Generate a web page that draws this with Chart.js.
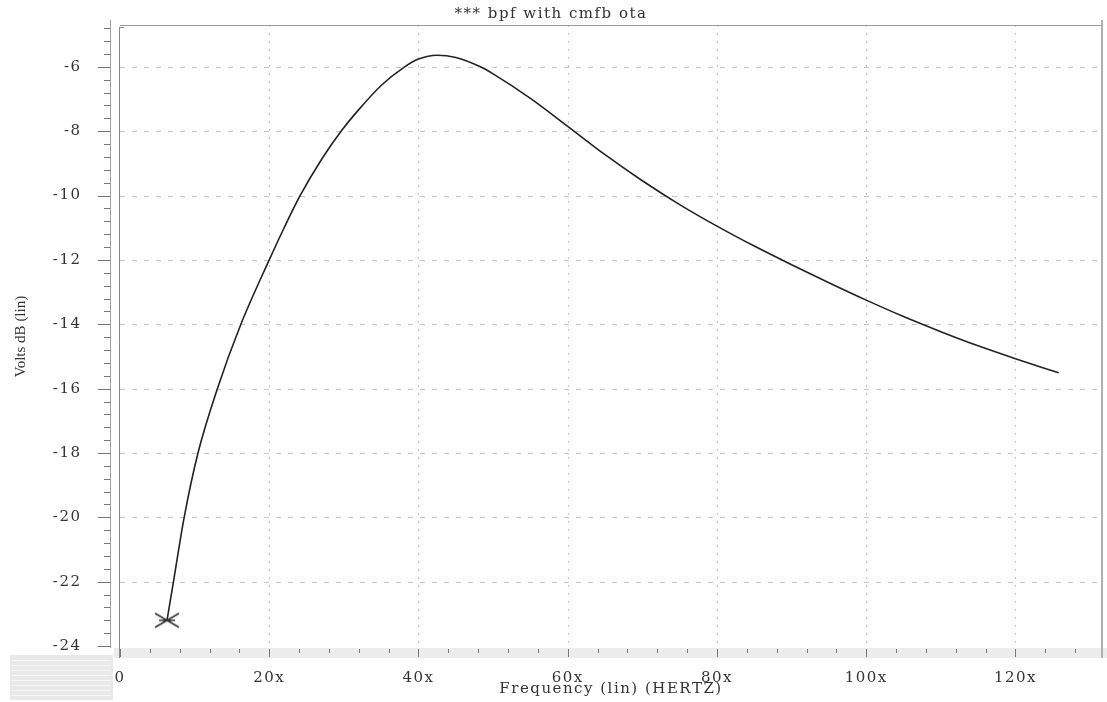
<!DOCTYPE html>
<html>
<head>
<meta charset="utf-8">
<script src="https://cdn.jsdelivr.net/npm/chart.js@4.4.1/dist/chart.umd.min.js"></script>
<style>
  html, body { margin: 0; padding: 0; background: #ffffff; }
  #wrap { width: 1107px; height: 702px; position: relative; }
</style>
</head>
<body>
<div id="wrap"><canvas id="c" width="1107" height="702"></canvas></div>
<script>
// ---- data ----
const frequency = [6.3, 7.2, 8.6, 10.45, 13.05, 16.2, 20.0, 22.0, 24.1, 27.0, 29.7, 32.0, 35.0, 38.1, 40.0, 42.5, 45.0, 48.3, 50, 55, 60, 65, 70, 75, 80, 85, 90, 95, 100, 105, 110, 115, 120, 125.8];
const voltsDb   = [-23.2, -21.95, -20.0, -18.0, -16.0, -14.0, -12.0, -11.0, -10.02, -8.88, -7.98, -7.33, -6.58, -6.01, -5.76, -5.64, -5.71, -6.0, -6.22, -6.98, -7.85, -8.73, -9.54, -10.28, -10.95, -11.57, -12.15, -12.71, -13.25, -13.76, -14.23, -14.67, -15.07, -15.51];
const xMajorTicks = [0, 20, 40, 60, 80, 100, 120];
const yMajorTicks = [-24, -22, -20, -18, -16, -14, -12, -10, -8, -6];
const xMinorStep = 4;
const yMinorStep = 0.4;
const titleText = "*** bpf with cmfb ota";
const xTitle = "Frequency (lin) (HERTZ)";
const yTitle = "Volts dB (lin)";

const FONT = "'DejaVu Serif', 'Liberation Serif', serif";
const FONT_Y = "'Liberation Serif', 'DejaVu Serif', serif";
const SPACING = '1.5px';

// marker glyph (asterisk-like X)
const marker = document.createElement('canvas');
marker.width = 28; marker.height = 18;
(function () {
  const m = marker.getContext('2d');
  m.strokeStyle = '#333'; m.lineWidth = 1.5;
  m.beginPath();
  m.moveTo(2, 2); m.lineTo(26, 16);
  m.moveTo(2, 16); m.lineTo(26, 2);
  m.moveTo(6, 9); m.lineTo(22, 9);
  m.stroke();
})();

const points = frequency.map((f, i) => ({ x: f, y: voltsDb[i] }));

const framePlugin = {
  id: 'frame',
  afterLayout(chart) {
    chart.ctx.letterSpacing = SPACING;
    const s = chart.scales.y;
    if (s && !s._noSpacing) {
      const orig = s.drawTitle.bind(s);
      s.drawTitle = function () {
        const c = chart.ctx;
        const prev = c.letterSpacing;
        c.letterSpacing = '0px';
        orig();
        c.letterSpacing = prev;
      };
      s._noSpacing = true;
    }
  },
  beforeDraw(chart) {
    chart.ctx.letterSpacing = SPACING;
  },
  beforeDatasetsDraw(chart) {
    const { ctx, chartArea: a, scales: { x, y } } = chart;
    ctx.save();
    ctx.strokeStyle = '#c4c4c4'; ctx.lineWidth = 1;
    ctx.setLineDash([5, 7]);
    yMajorTicks.forEach(v => {
      const py = Math.round(y.getPixelForValue(v)) + 0.5;
      if (py < a.top + 2 || py > a.bottom - 2) return;
      ctx.beginPath(); ctx.moveTo(a.left, py); ctx.lineTo(a.right, py); ctx.stroke();
    });
    ctx.setLineDash([2, 6]);
    xMajorTicks.forEach(v => {
      const px = Math.round(x.getPixelForValue(v)) + 0.5;
      if (px < a.left + 2 || px > a.right - 2) return;
      ctx.beginPath(); ctx.moveTo(px, a.top); ctx.lineTo(px, a.bottom); ctx.stroke();
    });
    ctx.restore();
  },
  afterDraw(chart) {
    const { ctx, chartArea: a, scales: { x, y } } = chart;
    ctx.save();
    ctx.setLineDash([]);
    ctx.fillStyle = '#ececec';
    ctx.fillRect(a.left - 6, a.bottom, chart.width - a.left + 6, 10);
    ctx.fillStyle = '#e9e9e9';
    ctx.fillRect(10, 655, 103, 45);
    ctx.strokeStyle = '#f6f6f6'; ctx.lineWidth = 1;
    for (let yy = 660; yy < 700; yy += 5) { ctx.beginPath(); ctx.moveTo(12, yy + 0.5); ctx.lineTo(111, yy + 0.5); ctx.stroke(); }
    ctx.strokeStyle = '#9a9a9a'; ctx.lineWidth = 1;
    ctx.beginPath(); ctx.moveTo(a.left, a.top + 0.5); ctx.lineTo(a.right, a.top + 0.5); ctx.stroke();
    ctx.strokeStyle = '#b0b0b0'; ctx.lineWidth = 2;
    ctx.beginPath(); ctx.moveTo(a.right, 20); ctx.lineTo(a.right, a.bottom + 10); ctx.stroke();
    ctx.strokeStyle = '#888'; ctx.lineWidth = 1;
    ctx.beginPath(); ctx.moveTo(a.left - 0.5, a.top + 2); ctx.lineTo(a.left - 0.5, a.bottom + 10); ctx.stroke();
    ctx.beginPath(); ctx.moveTo(a.left - 0.5, a.top + 2.5); ctx.lineTo(a.left + 4, a.top + 2.5); ctx.stroke();
    ctx.strokeStyle = '#a0a0a0';
    ctx.beginPath(); ctx.moveTo(110.5, a.top - 5); ctx.lineTo(110.5, a.bottom); ctx.stroke();
    ctx.strokeStyle = '#777';
    for (let v = -24; v <= -4.8 + 1e-6; v += yMinorStep) {
      const py = Math.round(y.getPixelForValue(v)) + 0.5;
      const major = Math.abs(v / 2 - Math.round(v / 2)) < 1e-6;
      ctx.beginPath(); ctx.moveTo(major ? 98 : 104, py); ctx.lineTo(110, py); ctx.stroke();
    }
    for (let v = 0; v <= 131; v += xMinorStep) {
      const px = Math.round(x.getPixelForValue(v)) + 0.5;
      const major = v % 20 === 0;
      ctx.beginPath(); ctx.moveTo(px, a.bottom + 1); ctx.lineTo(px, a.bottom + (major ? 9 : 5)); ctx.stroke();
    }
    ctx.restore();
  }
};

new Chart(document.getElementById('c'), {
  type: 'line',
  data: {
    datasets: [{
      data: points,
      borderColor: '#222',
      borderWidth: 1.6,
      fill: false,
      cubicInterpolationMode: 'monotone',
      pointStyle: (ctx) => ctx.dataIndex === 0 ? marker : 'circle',
      pointRadius: (ctx) => ctx.dataIndex === 0 ? 10 : 0,
      pointHoverRadius: 0,
      clip: false
    }]
  },
  plugins: [framePlugin],
  options: {
    responsive: false,
    animation: false,
    events: [],
    layout: { autoPadding: false, padding: { left: 0, right: 5, top: 0, bottom: 0 } },
    plugins: {
      legend: { display: false },
      tooltip: { enabled: false },
      title: {
        display: true,
        text: titleText,
        color: '#333',
        font: { family: FONT, size: 15, weight: 'normal', lineHeight: 1.2 },
        padding: { top: 5, bottom: 2 }
      }
    },
    scales: {
      x: {
        type: 'linear',
        min: 0,
        max: 131.6,
        afterBuildTicks: (s) => { s.ticks = xMajorTicks.map(v => ({ value: v })); },
        afterFit: (s) => { s.height = 54; s.paddingLeft = 0; s.paddingRight = 0; },
        grid: { display: false, drawTicks: false },
        border: { display: false },
        ticks: {
          padding: 21,
          maxRotation: 0,
          autoSkip: false,
          color: '#333',
          font: { family: FONT, size: 15 },
          callback: (v) => v === 0 ? '0' : v + 'x'
        },
        title: {
          display: true,
          text: xTitle,
          color: '#333',
          font: { family: FONT, size: 15, lineHeight: 1.2 },
          padding: { top: 0, bottom: 4 }
        }
      },
      y: {
        type: 'linear',
        min: -24.06,
        max: -4.7,
        afterBuildTicks: (s) => { s.ticks = yMajorTicks.map(v => ({ value: v })); },
        afterFit: (s) => { s.width = 120; s.paddingTop = 0; s.paddingBottom = 0; },
        grid: { display: false, drawTicks: false },
        border: { display: false },
        ticks: {
          padding: 38.5,
          autoSkip: false,
          color: '#333',
          font: { family: FONT, size: 15 },
          callback: (v) => String(v)
        },
        title: {
          display: true,
          text: yTitle,
          color: '#333',
          font: { family: FONT_Y, size: 15, lineHeight: 1.2 },
          padding: { top: 12, bottom: 0 }
        }
      }
    }
  }
});
</script>
</body>
</html>
